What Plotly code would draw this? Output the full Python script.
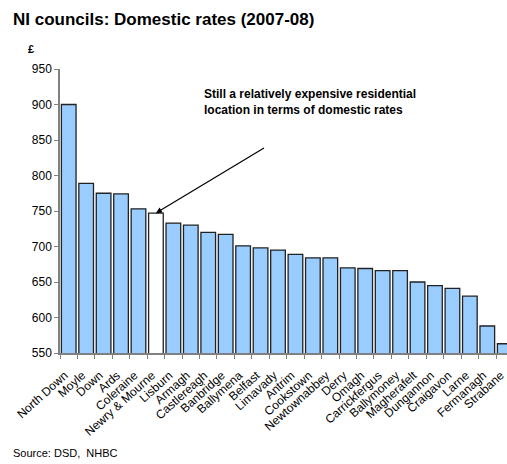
import plotly.graph_objects as go

councils = ["North Down", "Moyle", "Down", "Ards", "Coleraine", "Newry & Mourne", "Lisburn",
            "Armagh", "Castlereagh", "Banbridge", "Ballymena", "Belfast", "Limavady", "Antrim",
            "Cookstown", "Newtownabbey", "Derry", "Omagh", "Carrickfergus", "Ballymoney",
            "Magherafelt", "Dungannon", "Craigavon", "Larne", "Fermanagh", "Strabane"]
rates = [900, 789, 775, 774, 753, 747, 733, 730, 720, 717, 701, 698, 695, 689,
         684, 684, 670, 669, 666, 666, 650, 645, 641, 630, 588, 563]
highlight = "Newry & Mourne"
y_ticks = [550, 600, 650, 700, 750, 800, 850, 900, 950]

colors = ["#FFFFFF" if c == highlight else "#99CCFF" for c in councils]

L, R, T, B = 60, 0, 69, 111
W, H = 507, 464
plot_w = W - L - R
plot_h = H - T - B
x_lo, x_hi = -0.5, 25.13
y_lo, y_hi = 550, 950


def px_x(px):
    return (px - L) / plot_w


def px_y(py):
    return 1 - (py - T) / plot_h


fig = go.Figure(go.Bar(
    x=councils, y=rates,
    marker=dict(color=colors, line=dict(color="#222222", width=1.3)),
))

hi = councils.index(highlight)
head_px = L + (hi - x_lo) / (x_hi - x_lo) * plot_w
head_py = T + (y_hi - rates[hi]) / (y_hi - y_lo) * plot_h
fig.add_annotation(
    x=hi, y=rates[hi], xref="x", yref="y",
    ax=265.5 - head_px, ay=147 - head_py,
    showarrow=True, arrowhead=2, arrowsize=1, arrowwidth=1.2, arrowcolor="#000000",
    text="", standoff=0,
)
fig.add_annotation(
    x=px_x(202), y=px_y(102), xref="paper", yref="paper", showarrow=False,
    text="<b>Still a relatively expensive residential<br>location in terms of domestic rates</b>",
    font=dict(size=12), align="left", xanchor="left", yanchor="middle",
)
fig.add_annotation(
    x=px_x(11), y=px_y(19), xref="paper", yref="paper", showarrow=False,
    text="<b>NI councils: Domestic rates (2007-08)</b>", font=dict(size=17),
    xanchor="left", yanchor="middle",
)
fig.add_annotation(
    x=px_x(31), y=px_y(49), xref="paper", yref="paper", showarrow=False,
    text="<b>£</b>", font=dict(size=11), xanchor="center", yanchor="middle",
)
fig.add_annotation(
    x=px_x(11), y=px_y(453), xref="paper", yref="paper", showarrow=False,
    text="Source: DSD,  NHBC", font=dict(size=11), xanchor="left", yanchor="middle",
)

fig.update_layout(
    width=W, height=H,
    margin=dict(l=L, r=R, t=T, b=B),
    paper_bgcolor="white", plot_bgcolor="white",
    font=dict(family="Liberation Sans, Arial, sans-serif", color="#000000"),
    showlegend=False,
    bargap=0.16,
    xaxis=dict(
        type="category", range=[x_lo, x_hi],
        showline=True, linecolor="#808080", linewidth=1.5,
        ticks="outside", ticklen=4, tickcolor="#808080", tickson="boundaries",
        tickangle=-42, tickfont=dict(size=12, color="#000000"),
        ticklabelstandoff=9, ticklabelshift=-4,
        showgrid=False, zeroline=False,
    ),
    yaxis=dict(
        range=[y_lo, y_hi], tickvals=y_ticks,
        showline=True, linecolor="#808080", linewidth=1.5,
        ticks="outside", ticklen=4, tickcolor="#808080",
        tickfont=dict(size=12, color="#000000"),
        showgrid=False, zeroline=False,
    ),
)

fig.write_html("out.html")
